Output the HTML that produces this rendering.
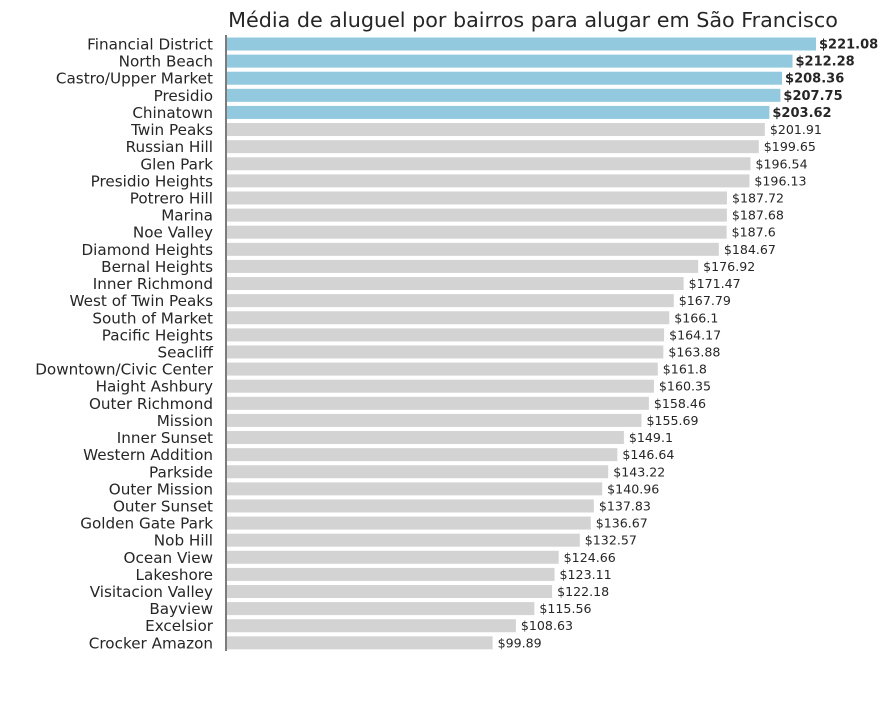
<!DOCTYPE html>
<html><head><meta charset="utf-8"><style>
body{margin:0;background:#fff;width:892px;height:698px;overflow:hidden}
svg text{font-family:"DejaVu Sans","Liberation Sans",sans-serif;fill:#262626}
</style></head><body>
<svg id="chart" width="892" height="698">
<text x="533" y="27" font-size="20.7" text-anchor="middle">Média de aluguel por bairros para alugar em São Francisco</text>
<line x1="226" y1="35" x2="226" y2="651" stroke="#262626" stroke-width="1.2"/>
<g id="bars"></g>
</svg>
<script>
const categories=["Financial District","North Beach","Castro/Upper Market","Presidio","Chinatown","Twin Peaks","Russian Hill","Glen Park","Presidio Heights","Potrero Hill","Marina","Noe Valley","Diamond Heights","Bernal Heights","Inner Richmond","West of Twin Peaks","South of Market","Pacific Heights","Seacliff","Downtown/Civic Center","Haight Ashbury","Outer Richmond","Mission","Inner Sunset","Western Addition","Parkside","Outer Mission","Outer Sunset","Golden Gate Park","Nob Hill","Ocean View","Lakeshore","Visitacion Valley","Bayview","Excelsior","Crocker Amazon"];
const values=[221.08,212.28,208.36,207.75,203.62,201.91,199.65,196.54,196.13,187.72,187.68,187.6,184.67,176.92,171.47,167.79,166.1,164.17,163.88,161.8,160.35,158.46,155.69,149.1,146.64,143.22,140.96,137.83,136.67,132.57,124.66,123.11,122.18,115.56,108.63,99.89];
const highlightCount=5;
const x0=226,scale=(816-226)/221.08;
const xs=v=>x0+v*scale;
const ys=i=>44+i*17.11;
const g=document.getElementById('bars');
const NS='http://www.w3.org/2000/svg';
values.forEach((v,i)=>{
  const hi=i<highlightCount;
  const r=document.createElementNS(NS,'rect');
  r.setAttribute('x',x0+1);r.setAttribute('y',ys(i)-6.5);
  r.setAttribute('width',xs(v)-x0-1);r.setAttribute('height',13);
  r.setAttribute('fill',hi?'#92c9de':'#d3d3d3');
  
  
  g.appendChild(r);
  const t=document.createElementNS(NS,'text');
  t.setAttribute('x',213);t.setAttribute('y',ys(i)+5.5);
  t.setAttribute('text-anchor','end');t.setAttribute('font-size','15.2');
  t.textContent=categories[i];
  
  
  g.appendChild(t);
  const l=document.createElementNS(NS,'text');
  l.setAttribute('x',xs(v)+(hi?3:5));l.setAttribute('y',ys(i)+4.5);
  l.setAttribute('font-size',hi?'13':'12.6');
  if(hi)l.setAttribute('font-weight','bold');
  l.textContent='$'+v;
  
  
  g.appendChild(l);
});
</script>
</body></html>
